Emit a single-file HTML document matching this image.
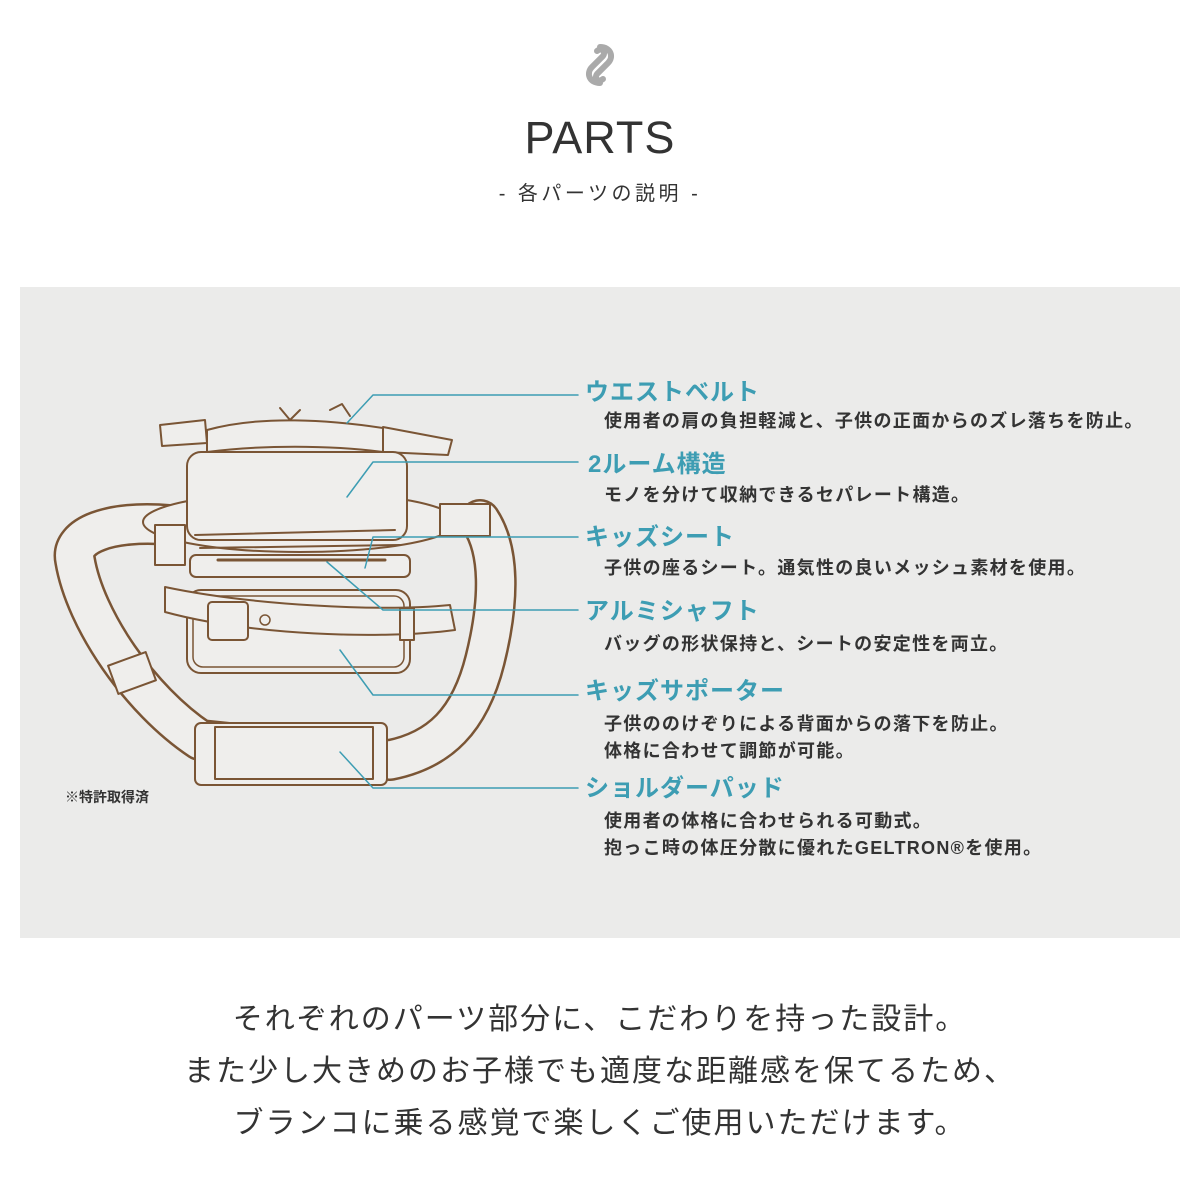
<!DOCTYPE html>
<html><head><meta charset="utf-8"><style>
body{margin:0;width:1200px;height:1200px;background:#fff;position:relative;font-family:"Liberation Sans","Noto Sans CJK JP",sans-serif;overflow:hidden}
.a{position:absolute;white-space:nowrap}
.t{color:#3d9db3;font-weight:bold;font-size:24px;line-height:1;letter-spacing:1px}
.d{color:#333;font-weight:bold;font-size:18px;line-height:1;letter-spacing:1.3px}
.b{left:0;width:1200px;text-align:center;font-size:30px;color:#333;letter-spacing:2px;line-height:1}
</style></head><body>
<svg class="a" style="left:583px;top:43px" width="34" height="44" viewBox="0 0 34 44"><path d="M17 4 C28 4 31 14 25 20 L14 31 C11 35 15 40 20 36 M17 40 C6 40 3 30 9 24 L20 13 C23 9 19 4 14 8" fill="none" stroke="#aaa" stroke-width="6" stroke-linecap="round"/></svg>
<div class="a" style="left:0;width:1200px;text-align:center;top:115px;font-size:45px;color:#333;letter-spacing:1px;line-height:1">PARTS</div>
<div class="a" style="left:0;width:1200px;text-align:center;top:184px;font-size:20px;color:#333;letter-spacing:3.5px;line-height:1">- 各パーツの説明 -</div>
<div class="a" style="left:20px;top:287px;width:1160px;height:651px;background:#ebebea"></div>
<svg class="a" style="left:0;top:0" width="1200" height="1200">
<g fill="none" stroke-linejoin="round" stroke-linecap="round">
<path d="M170 525 C110 520 70 535 75 560 C85 620 140 700 200 740 L390 760 C440 750 470 720 485 660 C500 600 500 550 480 520" stroke="#7a5535" stroke-width="42"/>
<path d="M170 525 C110 520 70 535 75 560 C85 620 140 700 200 740 L390 760 C440 750 470 720 485 660 C500 600 500 550 480 520" stroke="#efeeec" stroke-width="37"/>
<ellipse cx="300" cy="522" rx="157" ry="30" fill="#efeeec" stroke="#7a5535" stroke-width="2"/>
<rect x="440" y="504" width="50" height="32" fill="#efeeec" stroke="#7a5535" stroke-width="2"/>
<path d="M160 425 L205 420 L207 443 L162 446 Z" fill="#efeeec" stroke="#7a5535" stroke-width="2"/>
<path d="M207 430 C260 415 330 420 383 428 L383 452 C330 445 260 445 207 452 Z" fill="#efeeec" stroke="#7a5535" stroke-width="2"/>
<path d="M383 427 L452 440 L448 455 L383 452 Z" fill="#efeeec" stroke="#7a5535" stroke-width="2"/>
<path d="M280 408 L290 420 L300 410 M330 410 L342 404 L350 416" stroke="#7a5535" stroke-width="2"/>
<rect x="190" y="555" width="220" height="22" rx="6" fill="#efeeec" stroke="#7a5535" stroke-width="2"/>
<path d="M218 560 L385 560" stroke="#7a5535" stroke-width="3"/>
<rect x="187" y="452" width="220" height="88" rx="14" fill="#efeeec" stroke="#7a5535" stroke-width="2"/>
<path d="M195 535 L395 530 M200 548 L400 545" stroke="#7a5535" stroke-width="2"/>
<rect x="187" y="590" width="223" height="83" rx="14" fill="#efeeec" stroke="#7a5535" stroke-width="2"/>
<rect x="193" y="596" width="211" height="71" rx="10" stroke="#7a5535" stroke-width="1.5"/>
<path d="M165 587 C250 605 380 612 450 605 L455 630 C380 640 250 635 165 612 Z" fill="#efeeec" stroke="#7a5535" stroke-width="2"/>
<rect x="208" y="602" width="40" height="38" rx="4" fill="#efeeec" stroke="#7a5535" stroke-width="2"/>
<circle cx="265" cy="620" r="5" stroke="#7a5535" stroke-width="1.5"/>
<rect x="400" y="608" width="14" height="32" fill="#efeeec" stroke="#7a5535" stroke-width="2"/>
<rect x="155" y="525" width="30" height="40" fill="#efeeec" stroke="#7a5535" stroke-width="2"/>
<rect x="112" y="658" width="40" height="30" transform="rotate(-20 132 673)" fill="#efeeec" stroke="#7a5535" stroke-width="2"/>
<rect x="195" y="723" width="192" height="62" rx="6" fill="#efeeec" stroke="#7a5535" stroke-width="2"/>
<rect x="215" y="727" width="158" height="52" fill="#efeeec" stroke="#7a5535" stroke-width="2"/>
<g stroke="#3d9db3" stroke-width="1.5">
<path d="M347 423 L373 395 L578 395"/>
<path d="M347 497 L373 462 L578 462"/>
<path d="M365 568 L373 537 L578 537"/>
<path d="M327 562 L383 610 L578 610"/>
<path d="M340 650 L373 695 L578 695"/>
<path d="M340 752 L373 788 L578 788"/>
</g></g></svg>
<div class="a d" style="left:65px;top:790px;font-size:14px;letter-spacing:0">※特許取得済</div>
<div class="a t" style="left:585px;top:381px">ウエストベルト</div>
<div class="a d" style="left:604px;top:412px">使用者の肩の負担軽減と、子供の正面からのズレ落ちを防止。</div>
<div class="a t" style="left:588px;top:453px">2ルーム構造</div>
<div class="a d" style="left:604px;top:486px">モノを分けて収納できるセパレート構造。</div>
<div class="a t" style="left:585px;top:526px">キッズシート</div>
<div class="a d" style="left:604px;top:559px">子供の座るシート。通気性の良いメッシュ素材を使用。</div>
<div class="a t" style="left:585px;top:600px">アルミシャフト</div>
<div class="a d" style="left:604px;top:635px">バッグの形状保持と、シートの安定性を両立。</div>
<div class="a t" style="left:585px;top:680px">キッズサポーター</div>
<div class="a d" style="left:604px;top:715px">子供ののけぞりによる背面からの落下を防止。</div>
<div class="a d" style="left:604px;top:742px">体格に合わせて調節が可能。</div>
<div class="a t" style="left:585px;top:777px">ショルダーパッド</div>
<div class="a d" style="left:604px;top:812px">使用者の体格に合わせられる可動式。</div>
<div class="a d" style="left:604px;top:839px">抱っこ時の体圧分散に優れたGELTRON®を使用。</div>
<div class="a b" style="top:1005px">それぞれのパーツ部分に、こだわりを持った設計。</div>
<div class="a b" style="top:1057px">また少し大きめのお子様でも適度な距離感を保てるため、</div>
<div class="a b" style="top:1109px">ブランコに乗る感覚で楽しくご使用いただけます。</div>
</body></html>
